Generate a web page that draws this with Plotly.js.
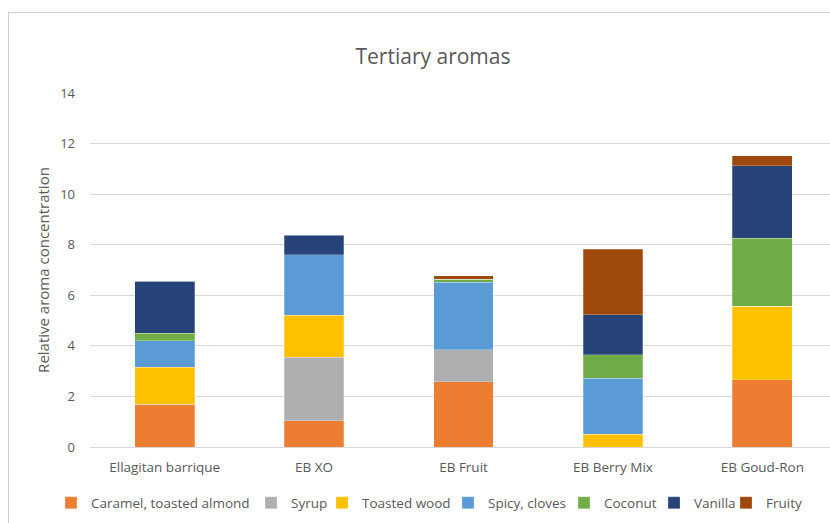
<!DOCTYPE html>
<html>
<head>
<meta charset="utf-8">
<script src="https://cdn.plot.ly/plotly-3.0.1.min.js"></script>
<style>
  html, body { margin: 0; padding: 0; background: #fff; overflow: hidden; }
  #chart { width: 830px; height: 523px; position: absolute; left: 0; top: 0; }
  #frame { position: absolute; left: 8px; top: 12px; width: 900px; height: 600px;
           border: 1px solid #d0d0d0; pointer-events: none; }
</style>
</head>
<body>
<div id="chart"></div>
<div id="frame"></div>
<script>
const categories = ["Ellagitan barrique", "EB XO", "EB Fruit", "EB Berry Mix", "EB Goud-Ron"];
const seriesNames = ["Caramel, toasted almond", "Syrup", "Toasted wood", "Spicy, cloves", "Coconut", "Vanilla", "Fruity"];
const caramel = [1.69, 1.04, 2.58, 0, 2.66];
const syrup = [0, 2.51, 1.27, 0, 0];
const toastedWood = [1.46, 1.67, 0, 0.51, 2.90];
const spicyCloves = [1.05, 2.38, 2.66, 2.21, 0];
const coconut = [0.29, 0, 0.12, 0.92, 2.69];
const vanilla = [2.06, 0.77, 0, 1.59, 2.87];
const fruity = [0, 0.02, 0.14, 2.60, 0.40];
const yTicks = [0, 2, 4, 6, 8, 10, 12, 14];

const seriesValues = [caramel, syrup, toastedWood, spicyCloves, coconut, vanilla, fruity];
const colors = ["#ED7D31", "#AEAFB1", "#FFC000", "#5B9BD5", "#70AD47", "#264478", "#9E480E"];
// legend text start positions (px) as in the reference
const legendTextX = [91, 291, 362, 488, 604, 694, 766];

const font = "Open Sans, Liberation Sans, sans-serif";
const legendIds = seriesNames.map((n, i) => i === 0 ? "legend" : "legend" + (i + 1));

const traces = seriesNames.map((name, i) => ({
  type: "bar",
  name: name,
  x: categories,
  y: seriesValues[i],
  legend: legendIds[i],
  marker: { color: colors[i], line: { color: "rgba(255,255,255,0.5)", width: 0.5 } },
  hoverinfo: "x+y+name"
}));

const layout = {
  width: 830,
  height: 523,
  barmode: "stack",
  bargap: 0.6,
  paper_bgcolor: "#ffffff",
  plot_bgcolor: "#ffffff",
  margin: { l: 90, r: 0, t: 93, b: 76 },
  font: { family: font, color: "#595959", size: 13 },
  title: {
    text: "Tertiary aromas",
    font: { family: font, size: 21, color: "#595959" },
    x: 433 / 830, xref: "container", xanchor: "center",
    y: 1 - 57 / 523, yref: "container", yanchor: "middle"
  },
  xaxis: {
    type: "category",
    range: [-0.5, 4.453],
    showgrid: false,
    showline: true,
    linecolor: "#d9d9d9",
    linewidth: 1,
    ticks: "",
    ticklabelstandoff: 8,
    tickfont: { family: font, size: 13.5, color: "#595959" },
    fixedrange: true
  },
  yaxis: {
    range: [0, 14],
    tickvals: yTicks,
    ticktext: yTicks.map(String),
    showgrid: true,
    gridcolor: "#d9d9d9",
    gridwidth: 1,
    zeroline: false,
    showline: false,
    ticks: "",
    ticklabelstandoff: 14,
    tickfont: { family: font, size: 13, color: "#595959" },
    title: { text: "Relative aroma concentration", font: { family: font, size: 15, color: "#595959" }, standoff: 6 },
    fixedrange: true
  },
  showlegend: true
};

legendIds.forEach((id, i) => {
  layout[id] = {
    orientation: "h",
    xref: "container", yref: "container",
    x: (legendTextX[i] - 40) / 830, xanchor: "left",
    y: 1 - 503 / 523, yanchor: "middle",
    font: { family: font, size: 13.5, color: "#595959" },
    bgcolor: "rgba(0,0,0,0)",
    borderwidth: 0
  };
});

Plotly.newPlot("chart", traces, layout, { displayModeBar: false, staticPlot: true });
</script>
</body>
</html>
